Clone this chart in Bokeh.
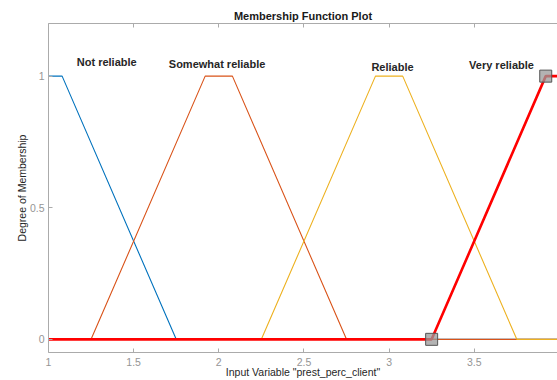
from bokeh.plotting import figure
from bokeh.models import Label, LinearAxis, FixedTicker, Range1d, CustomJSTickFormatter
from bokeh.embed import file_html
from bokeh.resources import INLINE

# ---- data ----
nr_x = [1.0, 1.08, 1.75, 4.0]
nr_y = [1, 1, 0, 0]
sr_x = [1.0, 1.25, 1.92, 2.08, 2.75, 4.0]
sr_y = [0, 0, 1, 1, 0, 0]
r_x = [1.0, 2.25, 2.92, 3.08, 3.75, 4.0]
r_y = [0, 0, 1, 1, 0, 0]
vr_x = [1.0, 3.25, 3.92, 4.0]
vr_y = [0, 0, 1, 1]
handle_x = [3.25, 3.92]
handle_y = [0, 1]

mf_names = ["Not reliable", "Somewhat reliable", "Reliable", "Very reliable"]
name_x = [1.342, 1.99, 3.02, 3.66]
name_y = [1.052, 1.045, 1.036, 1.042]

x_ticks = [1, 1.5, 2, 2.5, 3, 3.5, 4]
y_ticks = [0, 0.5, 1]

title_text = "Membership Function Plot"
x_label = 'Input Variable "prest_perc_client"'
y_label = "Degree of Membership"

colors = ["#0072BD", "#D95319", "#EDB120", "#FF0000"]
FONT = "Liberation Sans"
AXIS_C = "#ababab"
TICKLAB_C = "#959595"

p = figure(width=557, height=380, output_backend="svg", toolbar_location=None,
           x_range=Range1d(1, 3.989), y_range=Range1d(-0.05, 1.2),
           min_border_left=48, min_border_right=0, min_border_top=23, min_border_bottom=26,
           x_axis_location="below")
p.outline_line_color = None
p.xgrid.visible = False
p.ygrid.visible = False
p.background_fill_color = "white"
p.border_fill_color = "white"

p.title.text = title_text
p.title.align = "center"
p.title.text_font = FONT
p.title.text_font_size = "11px"
p.title.text_font_style = "bold"
p.title.text_color = "#1a1a1a"
p.title.standoff = 3
p.title.offset = 1

for ax in (p.xaxis[0], p.yaxis[0]):
    ax.axis_line_color = AXIS_C
    ax.major_tick_line_color = AXIS_C
    ax.major_tick_in = 4
    ax.major_tick_out = 0
    ax.minor_tick_line_color = None
    ax.major_label_text_color = TICKLAB_C
    ax.major_label_text_font = FONT
    ax.major_label_text_font_size = "10.5px"
    ax.axis_label_text_font = FONT
    ax.axis_label_text_font_size = "10.5px"
    ax.axis_label_text_font_style = "normal"
    ax.axis_label_text_color = "#262626"

p.xaxis[0].ticker = FixedTicker(ticks=x_ticks)
p.yaxis[0].ticker = FixedTicker(ticks=y_ticks)
p.xaxis[0].major_label_standoff = 5
p.xaxis[0].axis_label = x_label
p.xaxis[0].axis_label_standoff = -3
p.yaxis[0].major_label_standoff = 4
p.yaxis[0].axis_label = y_label
p.yaxis[0].axis_label_standoff = -1

top = LinearAxis(ticker=FixedTicker(ticks=x_ticks), axis_line_color=AXIS_C,
                 major_tick_line_color=AXIS_C, major_tick_in=4, major_tick_out=0,
                 minor_tick_line_color=None, major_label_standoff=0,
                 formatter=CustomJSTickFormatter(code="return ''"))
p.add_layout(top, "above")

p.line(nr_x, nr_y, line_color=colors[0], line_width=1.1)
p.line(sr_x, sr_y, line_color=colors[1], line_width=1.1)
p.line(r_x, r_y, line_color=colors[2], line_width=1.1)
p.line(vr_x, vr_y, line_color=colors[3], line_width=2.6)
p.scatter(handle_x, handle_y, marker="square", size=12, fill_color="#9a9a9a",
          fill_alpha=0.75, line_color="#555555", line_width=1)

for name, xx, yy in zip(mf_names, name_x, name_y):
    p.add_layout(Label(x=xx, y=yy, text=name, text_align="center",
                       text_baseline="alphabetic", text_font=FONT,
                       text_font_size="11px", text_font_style="bold",
                       text_color="#262626"))

open("out.html", "w").write(file_html(p, INLINE))
